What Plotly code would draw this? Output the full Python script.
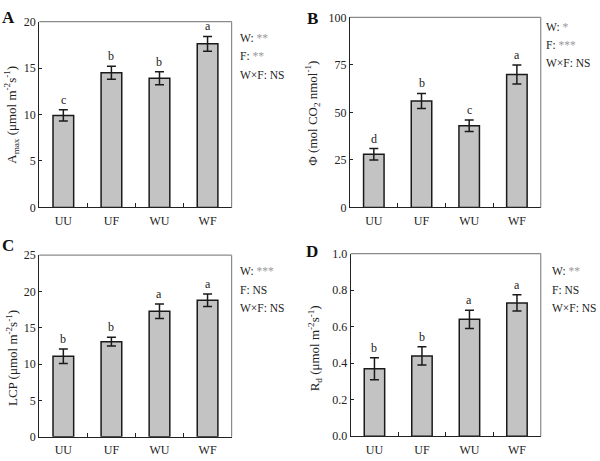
import plotly.graph_objects as go

categories = ["UU", "UF", "WU", "WF"]

amax_vals = [9.9, 14.5, 13.9, 17.6]
amax_err = [0.6, 0.7, 0.7, 0.8]
amax_letters = ["c", "b", "b", "a"]

phi_vals = [28.0, 56.0, 43.0, 70.0]
phi_err = [3.0, 4.0, 3.0, 5.0]
phi_letters = ["d", "b", "c", "a"]

lcp_vals = [11.1, 13.1, 17.3, 18.8]
lcp_err = [1.0, 0.6, 1.0, 0.85]
lcp_letters = ["b", "b", "a", "a"]

rd_vals = [0.37, 0.44, 0.64, 0.73]
rd_err = [0.06, 0.05, 0.05, 0.045]
rd_letters = ["b", "b", "a", "a"]

FONT = "Times New Roman, Liberation Serif, Tinos, Times, serif"

panels = [
    dict(key="A", vals=amax_vals, err=amax_err, letters=amax_letters,
         yrange=[0, 20], dtick=5, fmt="",
         title="A<sub>max</sub> (μmol m<sup>-2</sup>s<sup>-1</sup>)",
         xdom=[0.0655, 0.386], ydom=[0.5516, 0.9675],
         title_xy=(11, 111), label_xy=(8, 11),
         stats=[("W: ", "**"), ("F: ", "**"), ("W×F: NS", "")],
         stats_x=238, stats_y=[32, 51, 70]),
    dict(key="B", vals=phi_vals, err=phi_err, letters=phi_letters,
         yrange=[0, 100], dtick=25, fmt="",
         title="Φ (mol CO<sub>2</sub> nmol<sup>-1</sup>)",
         xdom=[0.5833, 0.9012], ydom=[0.5516, 0.9768],
         title_xy=(312, 110), label_xy=(312, 12),
         stats=[("W: ", "*"), ("F: ", "***"), ("W×F: NS", "")],
         stats_x=544, stats_y=[21, 39, 58]),
    dict(key="C", vals=lcp_vals, err=lcp_err, letters=lcp_letters,
         yrange=[0, 25], dtick=5, fmt="",
         title="LCP (μmol m<sup>-2</sup>s<sup>-1</sup>)",
         xdom=[0.0655, 0.386], ydom=[0.0384, 0.4447],
         title_xy=(12, 362), label_xy=(8, 246),
         stats=[("W: ", "***"), ("F: NS", ""), ("W×F: NS", "")],
         stats_x=238, stats_y=[272, 292, 310]),
    dict(key="D", vals=rd_vals, err=rd_err, letters=rd_letters,
         yrange=[0, 1.0], dtick=0.2, fmt=".1f",
         title="R<sub>d</sub> (μmol m<sup>-2</sup>s<sup>-1</sup>)",
         xdom=[0.5845, 0.9012], ydom=[0.0397, 0.4484],
         title_xy=(315, 352), label_xy=(312, 252),
         stats=[("W: ", "**"), ("F: NS", ""), ("W×F: NS", "")],
         stats_x=550, stats_y=[272, 292, 310]),
]

W, H = 600, 461
fig = go.Figure()
annotations = []
shapes = []
xs = list(range(len(categories)))

for i, p in enumerate(panels):
    n = "" if i == 0 else str(i + 1)
    xa, ya = "x" + n, "y" + n
    fig.add_trace(go.Bar(
        x=xs, y=p["vals"], xaxis=xa, yaxis=ya, width=0.43,
        marker=dict(color="#c3c3c3", line=dict(color="#1a1a1a", width=1.5)),
        error_y=dict(type="data", array=p["err"], color="#1a1a1a",
                     thickness=1.5, width=4.5),
        showlegend=False, hoverinfo="skip"))
    for x, v, e, l in zip(xs, p["vals"], p["err"], p["letters"]):
        annotations.append(dict(x=x, y=v + e, xref=xa, yref=ya, text=l,
                                showarrow=False, yanchor="bottom", yshift=1,
                                font=dict(family=FONT, size=12, color="#222")))
    fig.update_layout(**{
        ("xaxis" + n): dict(domain=p["xdom"], range=[-0.5, 3.5],
                            tickvals=xs, ticktext=categories, ticks="",
                            showline=True, linecolor="#222", linewidth=1.2,
                            showgrid=False, zeroline=False, anchor=ya,
                            ticklabelstandoff=2,
                            tickfont=dict(family=FONT, size=12, color="#222"),
                            minor=dict(tickvals=[0.5, 1.5, 2.5], ticks="inside",
                                       ticklen=4, tickcolor="#222", tickwidth=1),
                            fixedrange=True),
        ("yaxis" + n): dict(domain=p["ydom"], range=p["yrange"], dtick=p["dtick"],
                            tickformat=p["fmt"], ticks="inside", ticklen=3,
                            tickcolor="#222", showline=True, linecolor="#222",
                            linewidth=1.2, showgrid=False, zeroline=False,
                            anchor=xa,
                            tickfont=dict(family=FONT, size=12, color="#222"),
                            fixedrange=True),
    })
    x0, x1 = p["xdom"]
    y0, y1 = p["ydom"]
    shapes.append(dict(type="line", xref="paper", yref="paper",
                       x0=x0, x1=x1, y0=y1, y1=y1,
                       line=dict(color="#8a8a8a", width=1.2)))
    shapes.append(dict(type="line", xref="paper", yref="paper",
                       x0=x1, x1=x1, y0=y0, y1=y1,
                       line=dict(color="#8a8a8a", width=1.2)))
    tx, ty = p["title_xy"]
    annotations.append(dict(x=tx / W, y=1 - ty / H, xref="paper", yref="paper",
                            text=p["title"], textangle=-90, showarrow=False,
                            xanchor="center", yanchor="middle",
                            font=dict(family=FONT, size=13, color="#222")))
    lx, ly = p["label_xy"]
    annotations.append(dict(x=lx / W, y=1 - ly / H, xref="paper", yref="paper",
                            text="<b>" + p["key"] + "</b>", showarrow=False,
                            xanchor="center", yanchor="middle",
                            font=dict(family=FONT, size=17, color="#111")))
    for (lab, stars), sy in zip(p["stats"], p["stats_y"]):
        txt = lab + (f"<span style='color:#9a9a9a'>{stars}</span>" if stars else "")
        annotations.append(dict(x=p["stats_x"] / W, y=1 - sy / H, xref="paper",
                                yref="paper", text=txt, showarrow=False,
                                xanchor="left", yanchor="middle",
                                font=dict(family=FONT, size=11.5, color="#222")))

fig.update_layout(width=W, height=H, margin=dict(l=0, r=0, t=0, b=0),
                  paper_bgcolor="white", plot_bgcolor="white",
                  annotations=annotations, shapes=shapes, bargap=0.5)
fig.write_html("out.html", config={"displayModeBar": False},
               post_script="document.body.style.margin='0';document.body.style.padding='0';")
